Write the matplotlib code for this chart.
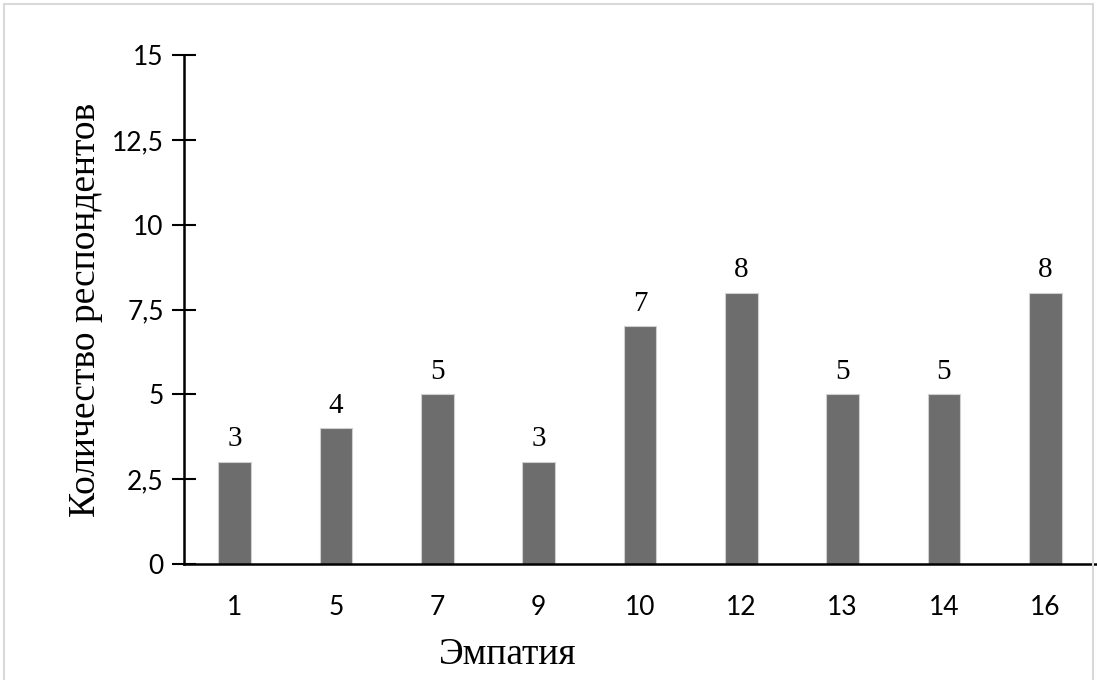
import matplotlib
matplotlib.use("Agg")
import matplotlib.pyplot as plt
from matplotlib.patches import Rectangle

categories = ["1", "5", "7", "9", "10", "12", "13", "14", "16"]
values = [3, 4, 5, 3, 7, 8, 5, 5, 8]
yticks = [0, 2.5, 5, 7.5, 10, 12.5, 15]
ytick_labels = ["0", "2,5", "5", "7,5", "10", "12,5", "15"]

W, H = 1097, 680
fig = plt.figure(figsize=(W / 100, H / 100), dpi=100)
fig.patch.set_facecolor("white")
fig.patches.append(Rectangle((4 / W, -0.01), 1089 / W, 1 - 4 / H + 0.01,
                             transform=fig.transFigure, fill=False,
                             edgecolor="#d9d9d9", linewidth=1.5))

ax = fig.add_axes([184 / W, 1 - 564 / H, (1096 - 184) / W, (564 - 55) / H])
x = list(range(len(categories)))
ax.bar(x, values, width=0.32, color="#6d6d6d", edgecolor="#d0d0d0", linewidth=0.8, zorder=2)
for xi, v in zip(x, values):
    ax.annotate(str(v), (xi, v), xytext=(0, 7), textcoords="offset points",
                ha="center", va="bottom", fontsize=21, family="Liberation Serif")

ax.set_xlim(-0.5, len(categories) - 0.5)
ax.set_ylim(0, 15)
ax.set_xticks(x)
ax.set_xticklabels(categories, fontsize=19, family="Lato")
ax.set_yticks(yticks)
ax.set_yticklabels(ytick_labels, fontsize=19, family="Lato")
ax.tick_params(axis="x", length=0, pad=22)
ax.tick_params(axis="y", direction="inout", length=17, width=1.5, pad=6)
for s in ["top", "right"]:
    ax.spines[s].set_visible(False)
ax.spines["left"].set_linewidth(1.8)
ax.spines["bottom"].set_linewidth(1.8)

fig.text(508 / W, 1 - 655 / H, "Эмпатия", ha="center", va="center",
         fontsize=27, family="Liberation Serif")
fig.text(86 / W, 1 - 310 / H, "Количество респондентов", ha="center", va="center",
         rotation=90, fontsize=27, family="Liberation Serif")

fig.savefig("out.png", dpi=100, facecolor="white")
